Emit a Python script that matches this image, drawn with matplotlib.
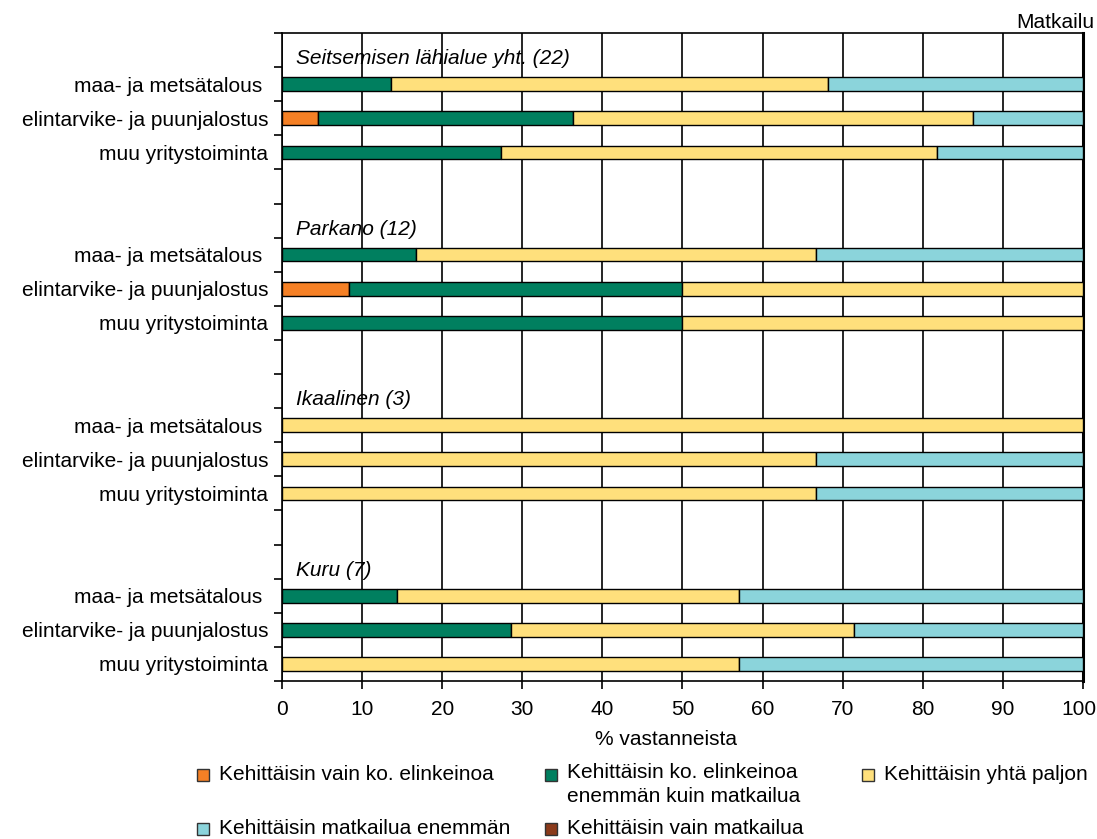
import numpy as np
import matplotlib
matplotlib.use("Agg")
import matplotlib.pyplot as plt
import matplotlib.transforms as mtransforms
from matplotlib.patches import Rectangle

plt.rcParams["font.family"] = ["Liberation Sans", "DejaVu Sans"]
plt.rcParams["font.size"] = 15

# data (% vastanneista), rows grouped by area, three sectors each
groups = ["Seitsemisen lähialue yht. (22)", "Parkano (12)", "Ikaalinen (3)", "Kuru (7)"]
sectors = ["maa- ja metsätalous ", "elintarvike- ja puunjalostus", "muu yritystoiminta"]

vain_ko = [0, 4.5, 0, 0, 8.3, 0, 0, 0, 0, 0, 0, 0]
ko_enemman = [13.6, 31.8, 27.3, 16.7, 41.7, 50.0, 0, 0, 0, 14.3, 28.6, 0]
yhta_paljon = [54.6, 50.0, 54.5, 50.0, 50.0, 50.0, 100.0, 66.7, 66.7, 42.8, 42.8, 57.1]
matk_enemman = [31.8, 13.7, 18.2, 33.3, 0, 0, 0, 33.3, 33.3, 42.9, 28.6, 42.9]
vain_matk = [0, 0, 0, 0, 0, 0, 0, 0, 0, 0, 0, 0]

series = [vain_ko, ko_enemman, yhta_paljon, matk_enemman, vain_matk]
legend_labels = [
    "Kehittäisin vain ko. elinkeinoa",
    "Kehittäisin ko. elinkeinoa\nenemmän kuin matkailua",
    "Kehittäisin yhtä paljon",
    "Kehittäisin matkailua enemmän",
    "Kehittäisin vain matkailua",
]
colors = ["#F58025", "#007F5F", "#FFE07C", "#8BD4DB", "#8B3A1A"]

# row positions: header row then 3 bar rows, blank row between groups
bar_rows = []
header_rows = []
for g in range(len(groups)):
    header_rows.append(5 * g)
    bar_rows += [5 * g + 1, 5 * g + 2, 5 * g + 3]
bar_rows = np.array(bar_rows)
n_rows = 5 * len(groups) - 1

fig = plt.figure(figsize=(10.97, 8.39), dpi=100)
ax = fig.add_axes([0.2571, 0.1883, 0.7301, 0.7724])

left = np.zeros(len(bar_rows))
for vals, c in zip(series, colors):
    vals = np.array(vals, dtype=float)
    m = vals > 0
    ax.barh(bar_rows[m], vals[m], left=left[m], height=0.4, color=c,
            edgecolor="black", linewidth=1.0, zorder=3)
    left += vals

for g, name in enumerate(groups):
    ax.text(1.8, header_rows[g] + 0.25, name, style="italic", va="center",
            ha="left", fontsize=15)

ax.set_xlim(0, 100)
ax.set_ylim(n_rows - 0.5, -0.5)
ax.set_xticks(np.arange(0, 101, 10))
ax.set_yticks(bar_rows)
ax.set_yticklabels(sectors * len(groups))
ax.set_yticks(np.arange(-0.5, n_rows, 1), minor=True)
ax.tick_params(axis="y", which="major", length=0, pad=10)
ax.tick_params(axis="y", which="minor", length=6, width=1.2, direction="out")
ax.tick_params(axis="x", length=6, width=1.2, pad=8)
ax.xaxis.grid(True, color="black", linewidth=1.2)
ax.set_axisbelow(True)
for s in ax.spines.values():
    s.set_linewidth(1.2)
ax.spines["right"].set_linewidth(2.2)
ax.set_xlabel("% vastanneista")
ax.xaxis.set_label_coords(0.48, -0.075)

# keep "100" inside the figure
last = ax.get_xticklabels()[-1]
last.set_transform(last.get_transform() +
                   mtransforms.ScaledTranslation(-4 / 100, 0, fig.dpi_scale_trans))

fig.text(0.998, 1 - 22 / 839, "Matkailu", ha="right", va="center", fontsize=15)

# legend drawn by hand: two rows of three columns
W, H = 1097, 839
leg_pos = [(197, 775), (545, 775), (862, 775), (197, 829), (545, 829)]
for (px, py), lab, c in zip(leg_pos, legend_labels, colors):
    fig.add_artist(Rectangle((px / W, 1 - (py + 6) / H), 12 / W, 12 / H,
                             facecolor=c, edgecolor="#333333", linewidth=1,
                             transform=fig.transFigure))
    if "\n" in lab:
        fig.text((px + 22) / W, 1 - (py - 12) / H, lab, ha="left", va="top",
                 fontsize=15, linespacing=1.3)
    else:
        fig.text((px + 22) / W, 1 - py / H, lab, ha="left", va="center",
                 fontsize=15)

fig.savefig("out.png", dpi=100)
